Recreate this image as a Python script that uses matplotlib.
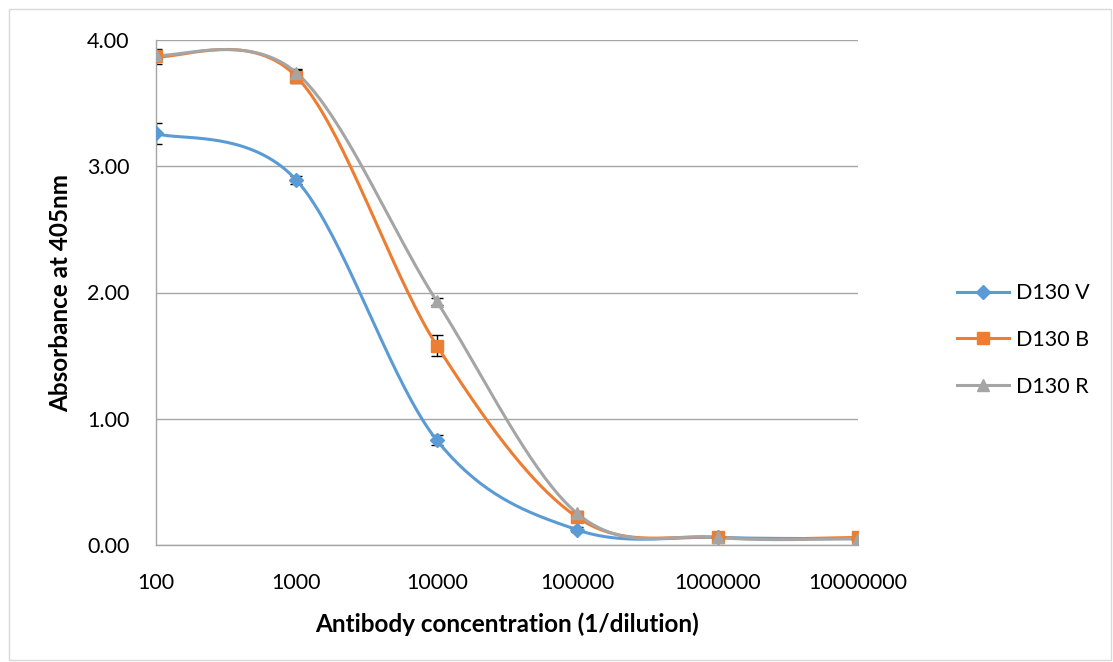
import numpy as np
import matplotlib
matplotlib.use("Agg")
import matplotlib.pyplot as plt
from matplotlib.patches import Rectangle

plt.rcParams['font.family'] = ['Lato', 'DejaVu Sans']

dilution = [100, 1000, 10000, 100000, 1000000, 10000000]
series_names = ["D130 V", "D130 B", "D130 R"]
v_vals = [3.26, 2.89, 0.83, 0.12, 0.06, 0.05]
b_vals = [3.87, 3.71, 1.58, 0.22, 0.06, 0.06]
r_vals = [3.88, 3.74, 1.93, 0.25, 0.06, 0.05]
v_err = [0.08, 0.03, 0.04, 0.02, 0.01, 0.01]
b_err = [0.06, 0.05, 0.08, 0.02, 0.01, 0.01]
r_err = [0.02, 0.03, 0.03, 0.02, 0.01, 0.01]
yticks = [0.0, 1.0, 2.0, 3.0, 4.0]
xticks = [100, 1000, 10000, 100000, 1000000, 10000000]

colors = ["#5B9BD5", "#ED7D31", "#A5A5A5"]
markers = ["D", "s", "^"]
msizes = [7, 9, 9]


def smooth(xs, ys, n=40):
    # Excel-style Bezier smoothing (Catmull-Rom control points) in log-x space
    lx = np.log10(xs)
    ys = np.asarray(ys, float)
    px, py = [], []
    N = len(lx)
    for i in range(N - 1):
        p0 = (lx[max(i - 1, 0)], ys[max(i - 1, 0)])
        p1 = (lx[i], ys[i])
        p2 = (lx[i + 1], ys[i + 1])
        p3 = (lx[min(i + 2, N - 1)], ys[min(i + 2, N - 1)])
        c1 = (p1[0] + (p2[0] - p0[0]) / 6, p1[1] + (p2[1] - p0[1]) / 6)
        c2 = (p2[0] - (p3[0] - p1[0]) / 6, p2[1] - (p3[1] - p1[1]) / 6)
        t = np.linspace(0, 1, n)
        bx = (1 - t) ** 3 * p1[0] + 3 * (1 - t) ** 2 * t * c1[0] + 3 * (1 - t) * t ** 2 * c2[0] + t ** 3 * p2[0]
        by = (1 - t) ** 3 * p1[1] + 3 * (1 - t) ** 2 * t * c1[1] + 3 * (1 - t) * t ** 2 * c2[1] + t ** 3 * p2[1]
        px.extend(bx)
        py.extend(by)
    return 10 ** np.array(px), np.array(py)


fig = plt.figure(figsize=(11.13, 6.62), dpi=100)
fig.patches.append(Rectangle((0.008, 0.003), 0.99, 0.983, transform=fig.transFigure,
                             fill=False, edgecolor="#D9D9D9", linewidth=1))
ax = fig.add_axes([156 / 1113, 1 - 545 / 662, (858 - 156) / 1113, (545 - 40) / 662])

for vals, errs, name, c, m, ms in zip([v_vals, b_vals, r_vals], [v_err, b_err, r_err],
                                      series_names, colors, markers, msizes):
    sx, sy = smooth(dilution, vals)
    ax.plot(sx, sy, color=c, lw=2.2, zorder=3)
    ax.errorbar(dilution, vals, yerr=errs, fmt="none", ecolor="black", elinewidth=1,
                capsize=4, capthick=1, zorder=2)
    ax.plot(dilution, vals, linestyle="none", marker=m, color=c, markersize=ms, zorder=4)
    ax.plot([], [], color=c, lw=2.2, marker=m, markersize=ms, label=name)

ax.set_xscale("log")
ax.set_xlim(100, 10000000)
ax.set_ylim(0, 4)
ax.set_xticks(xticks)
ax.set_xticklabels([str(x) for x in xticks])
ax.xaxis.set_minor_locator(matplotlib.ticker.NullLocator())
ax.set_yticks(yticks)
ax.set_yticklabels([f"{y:.2f}" for y in yticks])
ax.tick_params(axis="both", length=0, labelsize=15.5, colors="black")
ax.tick_params(axis="x", pad=20)
ax.tick_params(axis="y", pad=19)
ax.grid(axis="y", color="#A6A6A6", lw=1)
ax.set_axisbelow(True)
for s in ["top", "right"]:
    ax.spines[s].set_visible(False)
for s in ["left", "bottom"]:
    ax.spines[s].set_color("#A6A6A6")
    ax.spines[s].set_linewidth(1)

ax.set_xlabel("Antibody concentration (1/dilution)", fontsize=17.5, fontweight="bold", labelpad=14)
ax.set_ylabel("Absorbance at 405nm", fontsize=17.5, fontweight="bold", labelpad=11)

fig.legend(loc="center left", bbox_to_anchor=(938 / 1113, 1 - 340 / 662), frameon=False,
           fontsize=15.5, handlelength=2.4, labelspacing=1.25, handletextpad=0.3)

fig.savefig("out.png", dpi=100)
